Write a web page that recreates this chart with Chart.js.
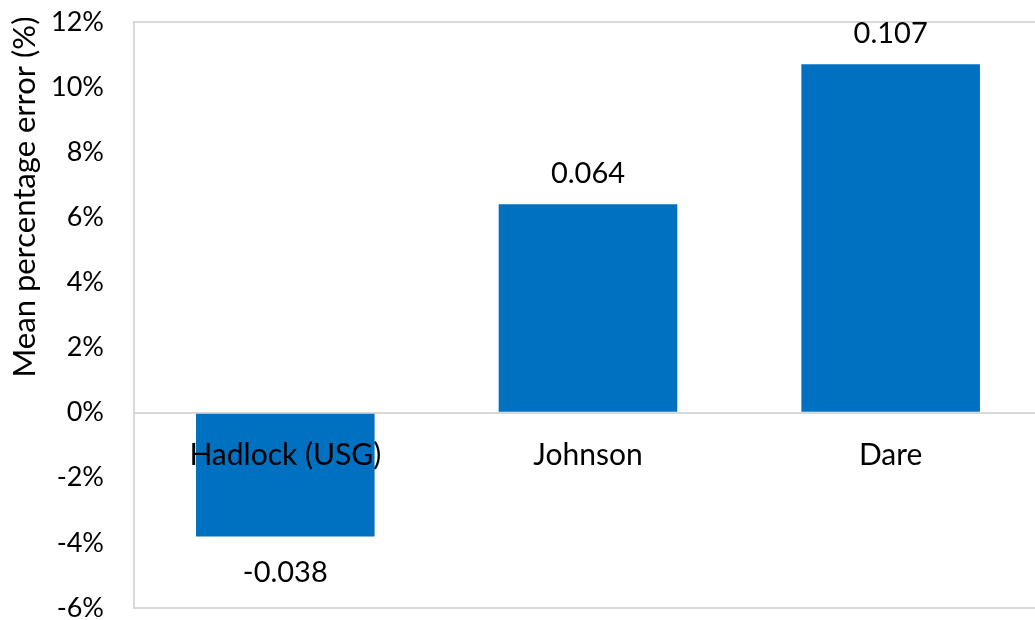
<!DOCTYPE html>
<html>
<head>
<meta charset="utf-8">
<script src="https://cdn.jsdelivr.net/npm/chart.js@4.4.1/dist/chart.umd.min.js"></script>
<style>
  html, body { margin: 0; padding: 0; background: #fff; overflow: hidden; }
  #wrap { width: 1045px; height: 620px; }
</style>
</head>
<body>
<div id="wrap"><canvas id="c" width="1045" height="620"></canvas></div>
<script>
// Mean percentage error by site
const sites = ['Hadlock (USG)', 'Johnson', 'Dare'];
const mpe = [-0.038, 0.064, 0.107];
const yTicks = ['-6%', '-4%', '-2%', '0%', '2%', '4%', '6%', '8%', '10%', '12%'];
const yTitle = 'Mean percentage error (%)';

const FONT = 'Lato, "Open Sans", sans-serif';
const BORDER = '#d9d9d9';

// left border, axis title, category names at the zero line, value labels
const barText = {
    id: 'barText',
    afterDatasetsDraw(chart) {
        const { ctx, chartArea: a, scales } = chart;
        const meta = chart.getDatasetMeta(0);
        const zeroY = scales.y.getPixelForValue(0);
        ctx.save();
        ctx.strokeStyle = BORDER;
        ctx.lineWidth = 2;
        ctx.beginPath();
        ctx.moveTo(a.left, a.top - 1);
        ctx.lineTo(a.left, a.bottom + 1);
        ctx.stroke();

        ctx.fillStyle = '#000';
        ctx.textAlign = 'center';
        ctx.textBaseline = 'middle';

        // y title sits toward the top, as in the original
        ctx.save();
        ctx.font = '31px ' + FONT;
        ctx.translate(25, 197);
        ctx.rotate(-Math.PI / 2);
        ctx.fillText(yTitle, 0, 0);
        ctx.restore();

        ctx.font = '30px ' + FONT;
        sites.forEach((s, i) => {
            ctx.fillText(s, scales.x.getPixelForValue(i), zeroY + 43);
        });
        ctx.font = '29px ' + FONT;
        meta.data.forEach((bar, i) => {
            const v = mpe[i];
            const y = v >= 0 ? bar.y - 31 : bar.y + 36;
            ctx.fillText(v.toFixed(3), bar.x, y);
        });
        ctx.restore();
    }
};

new Chart(document.getElementById('c'), {
    type: 'bar',
    data: {
        labels: sites,
        datasets: [{
            data: mpe,
            backgroundColor: '#0070c0',
            borderWidth: 0,
            categoryPercentage: 1,
            barPercentage: 0.59
        }]
    },
    options: {
        responsive: false,
        animation: false,
        layout: { padding: { top: 22, right: 3, bottom: 12, left: 21 } },
        plugins: { legend: { display: false }, tooltip: { enabled: false } },
        scales: {
            x: { display: false },
            y: {
                min: -0.06,
                max: 0.12,
                // tick padding otherwise pushes the plot in from top and bottom
                afterFit: (s) => { s.paddingTop = 0; s.paddingBottom = 0; },
                grid: {
                    drawTicks: false,
                    lineWidth: 2,
                    color: (c) => {
                        const v = c.tick ? Math.round(c.tick.value * 100) : null;
                        return (v === 0 || v === 12 || v === -6) ? BORDER : 'rgba(0,0,0,0)';
                    }
                },
                border: { display: false },
                ticks: {
                    stepSize: 0.02,
                    color: '#000',
                    padding: 30,
                    font: { family: FONT, size: 27 },
                    callback: (v) => yTicks[Math.round((v + 0.06) / 0.02)]
                }
            }
        }
    },
    plugins: [barText]
});
</script>
</body>
</html>
